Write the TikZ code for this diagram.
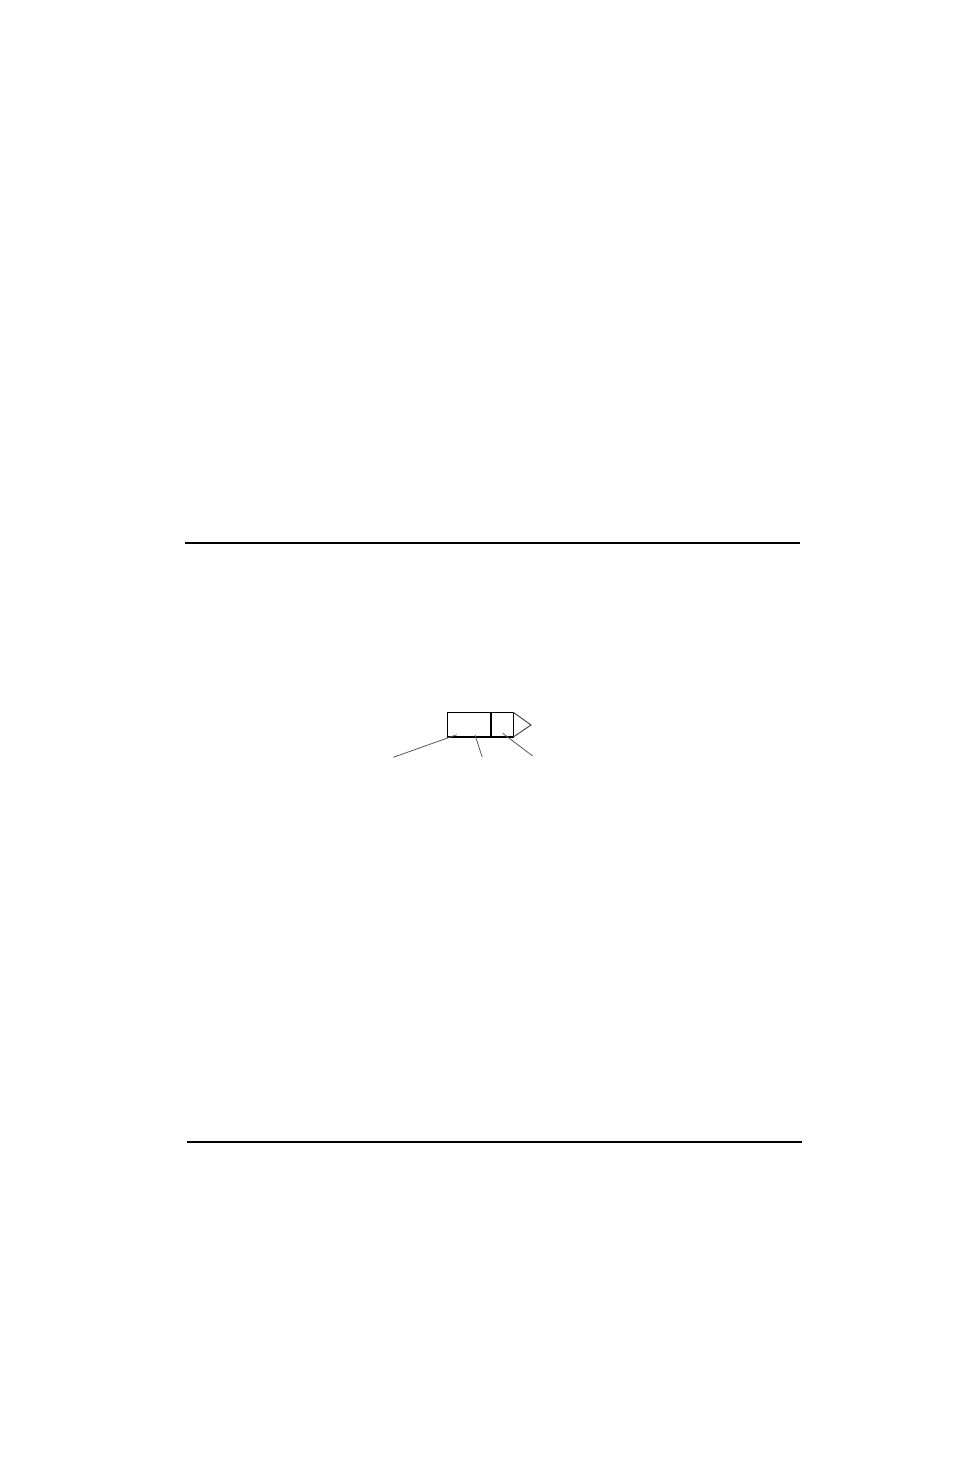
\documentclass[tikz,border=0pt]{standalone}
\begin{document}
\begin{tikzpicture}[x=0.5pt,y=-0.5pt,
  cell/.style={draw,line width=0.7pt,inner sep=0pt,outer sep=0pt,minimum height=12.35pt},
  leader/.style={line width=0.4pt,black!65}]
\useasboundingbox (0,0) rectangle (954,1474);
% rules
\coordinate (t1) at (185,543); \coordinate (t2) at (800,543);
\draw[line width=1.1pt] (t1) -- (t2);
\coordinate (b1) at (187,1142); \coordinate (b2) at (802,1142);
\draw[line width=0.8pt] (b1) -- (b2);
% box
\node[cell,minimum width=33pt,anchor=north west] (box) at (447.3,712.3) {};
\coordinate (d1) at (491,712.3); \coordinate (d2) at (491,737);
\draw[line width=0.7pt] (d1) -- (d2);
\coordinate (tip) at (531,725);
\draw[line width=0.5pt,black!70] (box.north east) -- (tip) -- (box.south east);
% leaders
\coordinate (l1a) at (393.3,757.3); \coordinate (l1b) at (456.7,734.7);
\coordinate (l2a) at (482.3,757.3); \coordinate (l2b) at (475,735);
\coordinate (l3a) at (532.7,756); \coordinate (l3b) at (502.7,733.3);
\draw[leader] (l1a) -- (l1b);
\draw[leader] (l2a) -- (l2b);
\draw[leader] (l3a) -- (l3b);
\end{tikzpicture}
\end{document}
